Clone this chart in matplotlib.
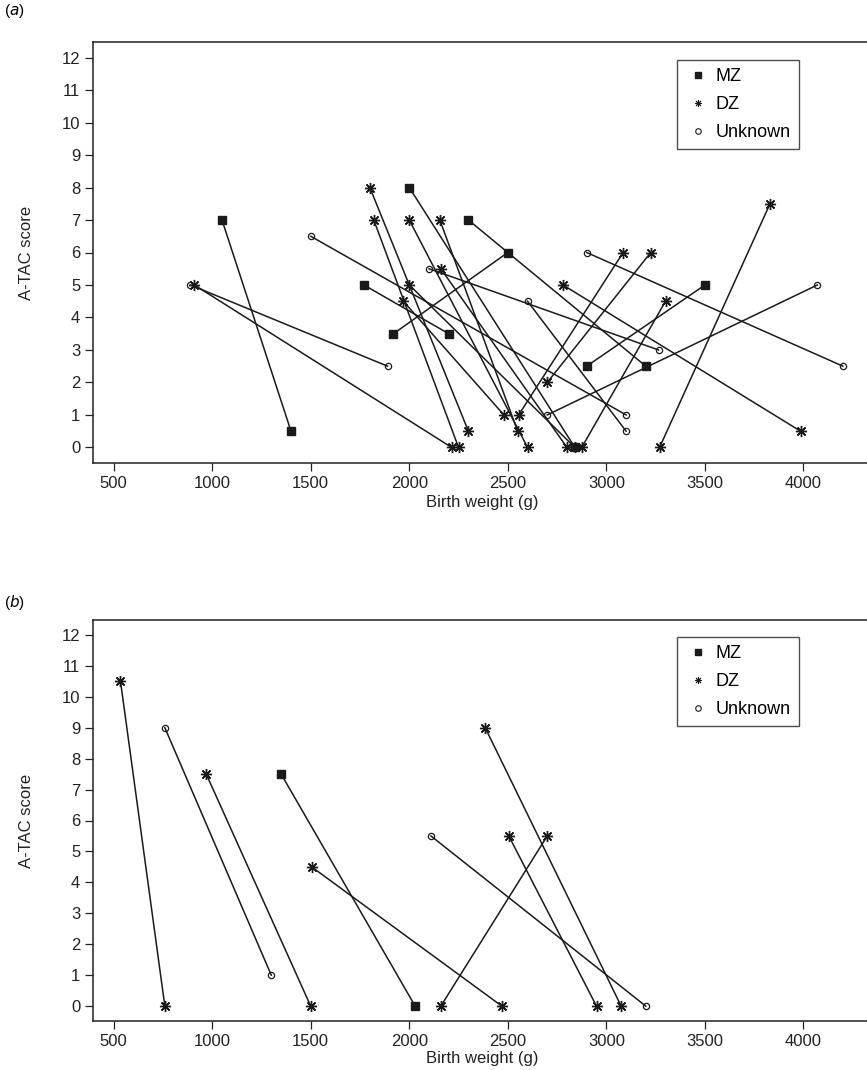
import matplotlib
matplotlib.use("Agg")
import matplotlib.pyplot as plt
from matplotlib.lines import Line2D

plt.rcParams['font.family'] = ['Liberation Sans', 'DejaVu Sans']

# ---- panel (a): twin pairs, birth weight (g) and A-TAC score ----
a_mz_bw = [(1050, 1400), (1770, 2200), (1920, 2500), (2300, 3200), (3500, 2900), (2000, 2840)]
a_mz_score = [(7, 0.5), (5, 3.5), (3.5, 6), (7, 2.5), (5, 2.5), (8, 0)]

a_dz_bw = [(910, 2215), (1820, 2250), (1800, 2300), (1970, 2480), (2155, 2550),
           (2000, 2600), (2160, 2800), (2000, 2840), (3300, 2875), (3085, 2555),
           (3225, 2700), (2780, 3985), (3830, 3270)]
a_dz_score = [(5, 0), (7, 0), (8, 0.5), (4.5, 1), (7, 0.5),
              (7, 0), (5.5, 0), (5, 0), (4.5, 0), (6, 1),
              (6, 2), (5, 0.5), (7.5, 0)]

a_unk_bw = [(890, 1890), (1500, 3100), (2100, 3265), (2600, 3100), (2900, 4200), (4070, 2700)]
a_unk_score = [(5, 2.5), (6.5, 1), (5.5, 3), (4.5, 0.5), (6, 2.5), (5, 1)]

# ---- panel (b) ----
b_mz_bw = [(1350, 2030)]
b_mz_score = [(7.5, 0)]

b_dz_bw = [(535, 760), (970, 1500), (1505, 2470), (2385, 3075), (2505, 2950), (2700, 2160)]
b_dz_score = [(10.5, 0), (7.5, 0), (4.5, 0), (9, 0), (5.5, 0), (5.5, 0)]

b_unk_bw = [(760, 1300), (2110, 3200)]
b_unk_score = [(9, 1), (5.5, 0)]

x_ticks = [500, 1000, 1500, 2000, 2500, 3000, 3500, 4000]
y_ticks = list(range(0, 13))

W, H = 867, 1070
fig = plt.figure(figsize=(W / 100, H / 100), dpi=100)

ink = '#1a1a1a'
star = (8, 2, 0)
styles = {
    "MZ": dict(marker='s', markersize=5.5, markerfacecolor=ink, markeredgecolor=ink),
    "DZ": dict(marker=star, markersize=8, markeredgewidth=1.0, markeredgecolor=ink),
    "Unknown": dict(marker='o', markersize=4.5, markerfacecolor='none', markeredgecolor=ink,
                    markeredgewidth=0.9),
}


def px_axes(left, right, top, bottom):
    return fig.add_axes([left / W, 1 - bottom / H, (right - left) / W, (bottom - top) / H])


def draw_panel(ax, groups, label, label_gap, xpad):
    for name, bws, scores in groups:
        for bw, sc in zip(bws, scores):
            ax.plot(bw, sc, color=ink, lw=1.1, zorder=2)
            ax.plot(bw, sc, linestyle='none', zorder=3, **styles[name])
    ax.set_xlim(394, 4346)
    ax.set_ylim(-0.48, 12.48)
    ax.set_xticks(x_ticks)
    ax.set_yticks(y_ticks)
    ax.tick_params(labelsize=12, length=6, width=0.9, colors='#222222', pad=3)
    for sp in ax.spines.values():
        sp.set_linewidth(1.1)
        sp.set_color('#222222')
    ax.set_xlabel("Birth weight (g)", fontsize=12, labelpad=xpad, color='#222222')
    ax.set_ylabel("A-TAC score", fontsize=12, labelpad=20, color='#222222')

    handles = [Line2D([], [], linestyle='none', marker='s', markersize=4, color=ink),
               Line2D([], [], linestyle='none', marker=star, markersize=5, markeredgewidth=0.7, color=ink),
               Line2D([], [], linestyle='none', marker='o', markersize=4, markerfacecolor='none',
                      markeredgecolor=ink, markeredgewidth=0.8)]
    leg = ax.legend(handles, ["MZ", "DZ", "Unknown"], loc='upper right',
                    bbox_to_anchor=(0.9067, 0.957), fontsize=13, frameon=True, fancybox=False,
                    handlelength=1.4, handletextpad=0.3, borderpad=0.45, labelspacing=0.6,
                    borderaxespad=0)
    leg.get_frame().set_edgecolor('#222222')
    leg.get_frame().set_linewidth(1.0)
    pos = ax.get_position()
    fig.text(4 / W, pos.y1 + label_gap / H, r"($\it{" + label + "}$)", fontsize=11, va='center', ha='left')


ax_a = px_axes(92.7, 871.7, 42, 463)
draw_panel(ax_a, [("MZ", a_mz_bw, a_mz_score), ("DZ", a_dz_bw, a_dz_score),
                  ("Unknown", a_unk_bw, a_unk_score)], "a", 31, 3)

ax_b = px_axes(92.7, 871.7, 620, 1021)
draw_panel(ax_b, [("MZ", b_mz_bw, b_mz_score), ("DZ", b_dz_bw, b_dz_score),
                  ("Unknown", b_unk_bw, b_unk_score)], "b", 17, 1.5)

fig.savefig("out.png", dpi=100)
